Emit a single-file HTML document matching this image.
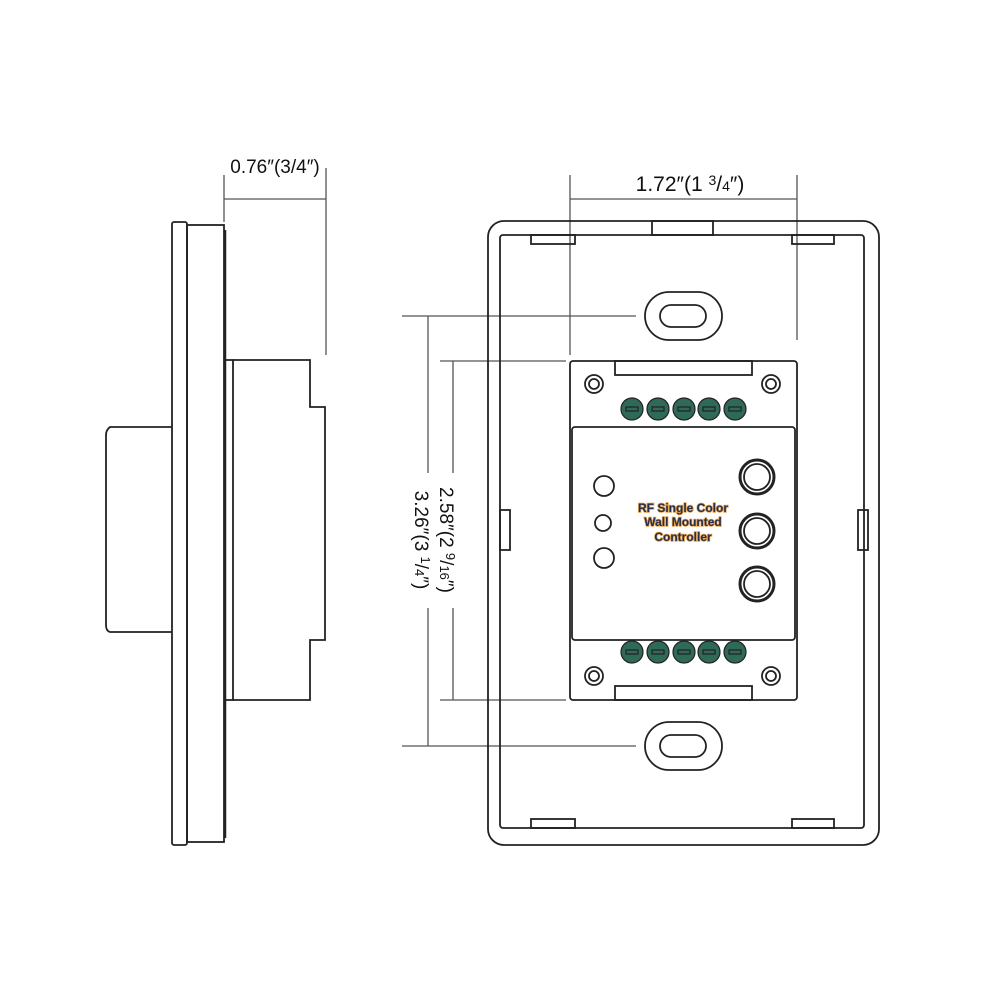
<!DOCTYPE html>
<html><head><meta charset="utf-8"><style>html,body{margin:0;padding:0;background:#fff}svg{display:block}</style></head>
<body>
<svg width="1000" height="1000" viewBox="0 0 1000 1000" xmlns="http://www.w3.org/2000/svg" font-family="Liberation Sans, sans-serif">
<g fill="none" stroke="#222" stroke-width="1.8">
<!-- side view -->
<rect x="172" y="222" width="15" height="623" rx="2"/>
<rect x="187" y="225" width="37" height="617"/>
<line x1="225" y1="230" x2="225" y2="838" stroke-width="2.5"/>
<path d="M172 427 H110 Q106 430 106 435 V625 Q106 631 110 632 H172"/>
<rect x="225" y="360" width="8" height="340"/>
<path d="M233 360 H310 V407 H325 V640 H310 V700 H233"/>
</g>
<g stroke="#555" stroke-width="1.3">
<line x1="224" y1="175" x2="224" y2="222"/>
<line x1="326" y1="168" x2="326" y2="355"/>
<line x1="224" y1="199" x2="326" y2="199"/>
<line x1="570" y1="175" x2="570" y2="355"/>
<line x1="797" y1="175" x2="797" y2="340"/>
<line x1="570" y1="199" x2="797" y2="199"/>
<line x1="402" y1="316" x2="636" y2="316"/>
<line x1="402" y1="746" x2="636" y2="746"/>
<line x1="428" y1="316" x2="428" y2="473"/>
<line x1="428" y1="608" x2="428" y2="746"/>
<line x1="440" y1="361" x2="566" y2="361"/>
<line x1="440" y1="700" x2="566" y2="700"/>
<line x1="453" y1="361" x2="453" y2="473"/>
<line x1="453" y1="608" x2="453" y2="700"/>
</g>
<g fill="#111" font-size="19">
<text x="275" y="173" text-anchor="middle">0.76″(3/4″)</text>
<text x="690" y="191" text-anchor="middle" font-size="21">1.72″(1 <tspan font-size="14" dy="-6">3</tspan><tspan dy="6">/</tspan><tspan font-size="14">4</tspan>″)</text>
<text transform="translate(440,540) rotate(90)" text-anchor="middle">2.58″(2 <tspan font-size="13" dy="-6">9</tspan><tspan dy="6">/</tspan><tspan font-size="13">16</tspan>″)</text>
<text transform="translate(415,540) rotate(90)" text-anchor="middle">3.26″(3 <tspan font-size="13" dy="-6">1</tspan><tspan dy="6">/</tspan><tspan font-size="13">4</tspan>″)</text>
</g>
<!-- front view -->
<g fill="none" stroke="#222" stroke-width="1.8">
<rect x="488" y="221" width="391" height="624" rx="16"/>
<rect x="500" y="235" width="364" height="593" rx="3"/>
<rect x="652" y="221" width="61" height="14"/>
<rect x="531" y="235" width="44" height="9"/>
<rect x="792" y="235" width="42" height="9"/>
<rect x="531" y="819" width="44" height="9"/>
<rect x="792" y="819" width="42" height="9"/>
<rect x="500" y="510" width="10" height="40"/>
<rect x="858" y="510" width="10" height="40"/>
<rect x="645" y="292" width="77" height="48" rx="24"/>
<rect x="660" y="305" width="46" height="22" rx="11"/>
<rect x="645" y="722" width="77" height="48" rx="24"/>
<rect x="660" y="735" width="46" height="22" rx="11"/>
<rect x="570" y="361" width="227" height="339" rx="3"/>
<rect x="615" y="361" width="137" height="14"/>
<rect x="615" y="686" width="137" height="14"/>
<rect x="572" y="427" width="223" height="213" rx="3"/>
<circle cx="594" cy="384" r="9"/><circle cx="594" cy="384" r="5"/>
<circle cx="771" cy="384" r="9"/><circle cx="771" cy="384" r="5"/>
<circle cx="594" cy="676" r="9"/><circle cx="594" cy="676" r="5"/>
<circle cx="771" cy="676" r="9"/><circle cx="771" cy="676" r="5"/>
<circle cx="604" cy="486" r="10"/><circle cx="603" cy="523" r="8"/><circle cx="604" cy="558" r="10"/>
<circle cx="757" cy="477" r="17" stroke-width="3"/><circle cx="757" cy="477" r="13"/>
<circle cx="757" cy="531" r="17" stroke-width="3"/><circle cx="757" cy="531" r="13"/>
<circle cx="757" cy="584" r="17" stroke-width="3"/><circle cx="757" cy="584" r="13"/>
</g>
<g stroke="#222" stroke-width="1.2">
<g fill="#2f6a58">
<circle cx="632" cy="409" r="11"/><circle cx="658" cy="409" r="11"/><circle cx="684" cy="409" r="11"/><circle cx="709" cy="409" r="11"/><circle cx="735" cy="409" r="11"/>
<circle cx="632" cy="652" r="11"/><circle cx="658" cy="652" r="11"/><circle cx="684" cy="652" r="11"/><circle cx="709" cy="652" r="11"/><circle cx="735" cy="652" r="11"/>
</g>
<g fill="none">
<rect x="626" y="407" width="12" height="4"/><rect x="652" y="407" width="12" height="4"/><rect x="678" y="407" width="12" height="4"/><rect x="703" y="407" width="12" height="4"/><rect x="729" y="407" width="12" height="4"/>
<rect x="626" y="650" width="12" height="4"/><rect x="652" y="650" width="12" height="4"/><rect x="678" y="650" width="12" height="4"/><rect x="703" y="650" width="12" height="4"/><rect x="729" y="650" width="12" height="4"/>
</g>
</g>
<g font-size="12" font-weight="bold" text-anchor="middle" style="paint-order:stroke" stroke="#e8a24a" stroke-width="1.5" fill="#23304f">
<text x="683" y="512">RF Single Color</text>
<text x="683" y="526">Wall Mounted</text>
<text x="683" y="541">Controller</text>
</g>
</svg>
</body></html>
